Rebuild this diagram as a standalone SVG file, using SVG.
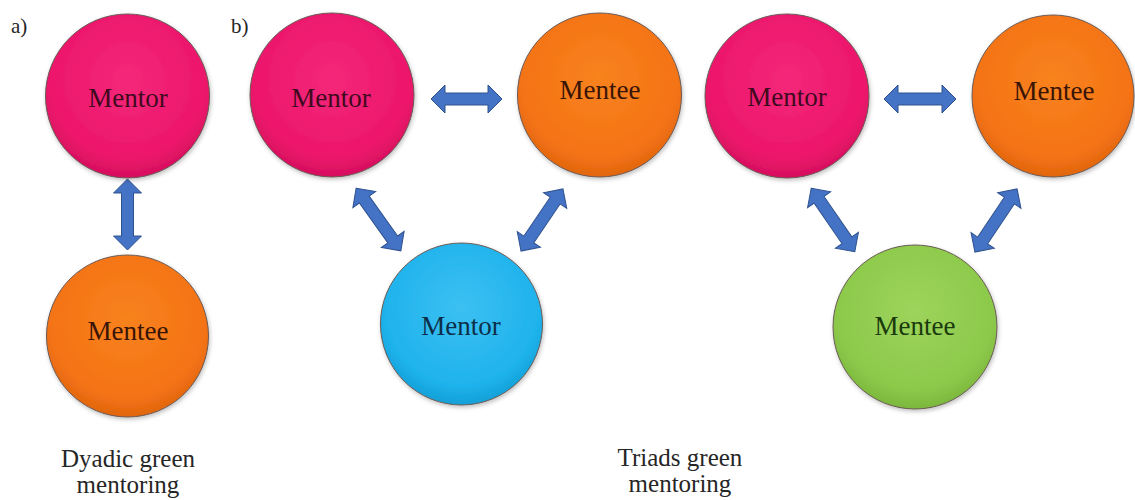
<svg xmlns="http://www.w3.org/2000/svg" width="1135" height="500" viewBox="0 0 1135 500">
<style>
  .lbl{font-family:"Liberation Serif","Times New Roman",serif;font-size:27px;text-anchor:middle}
  .cap{font-family:"Liberation Serif","Times New Roman",serif;font-size:25px;text-anchor:middle;fill:#262626}
  .tag{font-family:"Liberation Serif","Times New Roman",serif;font-size:21px;fill:#262626}
  .c{stroke:#6b5a55;stroke-width:1;filter:url(#sh)}
  .arr{fill:#4472C4;stroke:#2F528F;stroke-width:1;stroke-linejoin:miter}
</style>
<defs>
  <filter id="sh" x="-20%" y="-20%" width="140%" height="140%">
    <feDropShadow dx="1" dy="2" stdDeviation="2" flood-color="#000" flood-opacity="0.25"/>
  </filter>
  <radialGradient id="gPink" cx="50%" cy="40%" r="60%">
    <stop offset="0" stop-color="#F4287A"/>
    <stop offset="0.8" stop-color="#EC166B"/>
    <stop offset="1" stop-color="#D50F5E"/>
  </radialGradient>
  <radialGradient id="gOrange" cx="50%" cy="40%" r="60%">
    <stop offset="0" stop-color="#F8821E"/>
    <stop offset="0.8" stop-color="#F47315"/>
    <stop offset="1" stop-color="#E0650E"/>
  </radialGradient>
  <radialGradient id="gBlue" cx="50%" cy="40%" r="60%">
    <stop offset="0" stop-color="#3CC0F2"/>
    <stop offset="0.8" stop-color="#1FB3EC"/>
    <stop offset="1" stop-color="#129FD6"/>
  </radialGradient>
  <radialGradient id="gGreen" cx="50%" cy="40%" r="60%">
    <stop offset="0" stop-color="#9DD45C"/>
    <stop offset="0.8" stop-color="#8CC94A"/>
    <stop offset="1" stop-color="#7AB73C"/>
  </radialGradient>
</defs>
<rect width="1135" height="500" fill="#ffffff"/>

<text class="tag" x="11" y="33">a)</text>
<text class="tag" x="231" y="33">b)</text>

<g id="connectors">
  <!-- a: vertical -->
  <path class="arr" transform="translate(127.5,214.5) rotate(90)" d="M-35.5,0 L-21.5,-14 L-21.5,-6 L21.5,-6 L21.5,-14 L35.5,0 L21.5,14 L21.5,6 L-21.5,6 L-21.5,14 Z"/>
  <!-- b1 horizontal -->
  <path class="arr" transform="translate(466.5,99)" d="M-35.5,0 L-21.5,-14 L-21.5,-6 L21.5,-6 L21.5,-14 L35.5,0 L21.5,14 L21.5,6 L-21.5,6 L-21.5,14 Z"/>
  <!-- b1 Mentor - blue Mentor -->
  <path class="arr" transform="translate(378.5,219.5) rotate(54.5)" d="M-38.5,0 L-24.5,-14 L-24.5,-6 L24.5,-6 L24.5,-14 L38.5,0 L24.5,14 L24.5,6 L-24.5,6 L-24.5,14 Z"/>
  <!-- b1 Mentee - blue Mentor -->
  <path class="arr" transform="translate(542,220) rotate(124)" d="M-37.5,0 L-23.5,-14 L-23.5,-6 L23.5,-6 L23.5,-14 L37.5,0 L23.5,14 L23.5,6 L-23.5,6 L-23.5,14 Z"/>
  <!-- b2 horizontal -->
  <path class="arr" transform="translate(920,99)" d="M-36,0 L-22,-14 L-22,-6 L22,-6 L22,-14 L36,0 L22,14 L22,6 L-22,6 L-22,14 Z"/>
  <!-- b2 Mentor - green Mentee -->
  <path class="arr" transform="translate(833,220) rotate(55.5)" d="M-38.5,0 L-24.5,-14 L-24.5,-6 L24.5,-6 L24.5,-14 L38.5,0 L24.5,14 L24.5,6 L-24.5,6 L-24.5,14 Z"/>
  <!-- b2 Mentee - green Mentee -->
  <path class="arr" transform="translate(996,220.5) rotate(123.7)" d="M-38,0 L-24,-14 L-24,-6 L24,-6 L24,-14 L38,0 L24,14 L24,6 L-24,6 L-24,14 Z"/>
</g>

<g id="a-mentor">
  <circle class="c" cx="127.5" cy="96" r="82" fill="url(#gPink)"/>
  <text class="lbl" x="128" y="107" fill="#3f0a1e">Mentor</text>
</g>
<g id="a-mentee">
  <circle class="c" cx="127.5" cy="336" r="81" fill="url(#gOrange)"/>
  <text class="lbl" x="128" y="340" fill="#3a1506">Mentee</text>
</g>

<g id="b1-mentor">
  <circle class="c" cx="332" cy="95" r="82" fill="url(#gPink)"/>
  <text class="lbl" x="331" y="107" fill="#3f0a1e">Mentor</text>
</g>
<g id="b1-mentee">
  <circle class="c" cx="599.5" cy="95" r="82" fill="url(#gOrange)"/>
  <text class="lbl" x="600" y="99" fill="#3a1506">Mentee</text>
</g>
<g id="b1-mentor-blue">
  <circle class="c" cx="461.5" cy="324" r="81" fill="url(#gBlue)"/>
  <text class="lbl" x="461" y="335" fill="#0c2e48">Mentor</text>
</g>

<g id="b2-mentor">
  <circle class="c" cx="787" cy="96" r="82" fill="url(#gPink)"/>
  <text class="lbl" x="787" y="106" fill="#3f0a1e">Mentor</text>
</g>
<g id="b2-mentee">
  <circle class="c" cx="1053" cy="96" r="81" fill="url(#gOrange)"/>
  <text class="lbl" x="1054" y="100" fill="#3a1506">Mentee</text>
</g>
<g id="b2-mentee-green">
  <circle class="c" cx="915" cy="327" r="82" fill="url(#gGreen)"/>
  <text class="lbl" x="915" y="335" fill="#1a3a0c">Mentee</text>
</g>

<g id="captions">
  <text class="cap" x="128" y="467">Dyadic green</text>
  <text class="cap" x="128" y="493">mentoring</text>
  <text class="cap" x="680" y="466">Triads green</text>
  <text class="cap" x="680" y="492">mentoring</text>
</g>
</svg>
